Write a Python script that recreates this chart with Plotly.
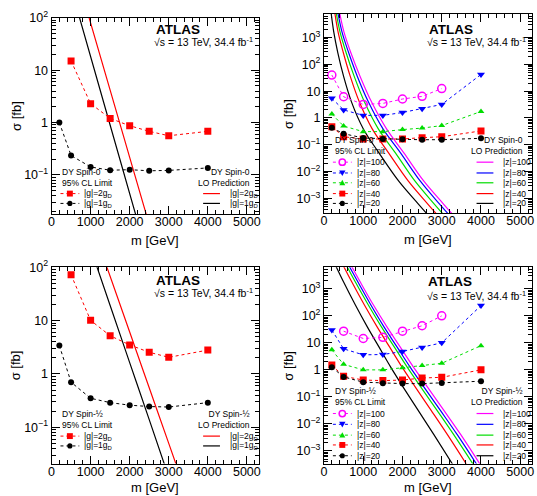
import plotly.graph_objects as go

# ------------------------------------------------------------------ data
# Top-left: DY spin-0, magnetic charge |g|
m_s0_g2 = [500, 1000, 1500, 2000, 2500, 3000, 4000]
lim_s0_g2 = [15, 2.3, 1.2, 0.87, 0.68, 0.56, 0.68]
m_s0_g1 = [200, 500, 1000, 1500, 2000, 2500, 3000, 4000]
lim_s0_g1 = [1.0, 0.235, 0.142, 0.123, 0.126, 0.12, 0.122, 0.136]
pm_s0_g2 = [900, 1500, 2000, 2500]
pred_s0_g2 = [144, 4.16, 0.217, 0.0113]
pm_s0_g1 = [700, 1200, 1700, 2200]
pred_s0_g1 = [111, 5.45, 0.268, 0.0132]

# Bottom-left: DY spin-1/2, magnetic charge |g|
m_s12_g2 = [500, 1000, 1500, 2000, 2500, 3000, 4000]
lim_s12_g2 = [72, 10.1, 5.2, 3.5, 2.55, 2.05, 2.8]
m_s12_g1 = [200, 500, 1000, 1500, 2000, 2500, 3000, 4000]
lim_s12_g1 = [3.4, 0.7, 0.35, 0.29, 0.26, 0.245, 0.24, 0.29]
pm_s12_g2 = [1400, 2000, 2500, 3000, 3250]
pred_s12_g2 = [109, 6.1, 0.55, 0.05, 0.015]
pm_s12_g1 = [1100, 1500, 2000, 2500, 2950]
pred_s12_g1 = [138, 19.2, 1.63, 0.139, 0.015]

# Top-right: DY spin-0, electric charge |z|
m_hec = [200, 500, 1000, 1500, 2000, 2500, 3000, 4000]
m_hec_z100_s0 = [200, 500, 1000, 1500, 2000, 2500, 3000]
lim_s0_z100 = [40, 6.2, 3.2, 3.5, 5.1, 6.4, 12.5]
lim_s0_z80 = [5.4, 2.0, 1.25, 1.25, 1.6, 2.2, 3.2, 42]
lim_s0_z60 = [1.4, 0.5, 0.31, 0.31, 0.37, 0.42, 0.52, 1.75]
lim_s0_z40 = [0.47, 0.2, 0.165, 0.165, 0.165, 0.185, 0.2, 0.33]
lim_s0_z20 = [0.43, 0.26, 0.18, 0.165, 0.16, 0.155, 0.155, 0.175]

pred_s0_sigma = [10000, 1585, 282, 35.5, 4.0, 0.4, 0.05, 0.0045, 0.00063, 0.0002]
pm_s0_z20 = [175, 250, 350, 500, 700, 1000, 1400, 1900, 2400, 2700]
pm_s0_z40 = [268, 360, 490, 670, 900, 1225, 1645, 2145, 2640, 2940]
pm_s0_z60 = [302, 410, 560, 770, 1030, 1380, 1820, 2315, 2805, 3105]
pm_s0_z80 = [344, 460, 625, 850, 1130, 1500, 1950, 2450, 2940, 3240]
pm_s0_z100 = [387, 510, 680, 920, 1210, 1590, 2035, 2540, 3040, 3340]

# Bottom-right: DY spin-1/2, electric charge |z|
m_hec_z100_s12 = [500, 1000, 1500, 2000, 2500, 3000]
lim_s12_z100 = [27, 14.5, 16, 27, 43, 100]
lim_s12_z80 = [30, 6, 3.6, 3.7, 4.8, 6.8, 10, 240]
lim_s12_z60 = [5.5, 1.6, 1.0, 1.0, 1.2, 1.45, 1.75, 7.9]
lim_s12_z40 = [1.5, 0.58, 0.42, 0.4, 0.42, 0.5, 0.53, 1.0]
lim_s12_z20 = [1.25, 0.55, 0.35, 0.32, 0.31, 0.31, 0.33, 0.38]

pred_s12_sigma = [7080, 1780, 251, 39.8, 7.08, 1.26, 0.251, 0.0316, 0.00398, 0.000282]
pm_s12_z20 = [300, 500, 800, 1100, 1400, 1700, 2000, 2400, 2800, 3300]
pm_s12_z40 = [494, 710, 1030, 1350, 1670, 1990, 2310, 2730, 3145, 3654]
pm_s12_z60 = [578, 800, 1130, 1460, 1790, 2120, 2450, 2880, 3305, 3824]
pm_s12_z80 = [638, 865, 1195, 1525, 1860, 2195, 2530, 2965, 3395, 3914]
pm_s12_z100 = [697, 925, 1260, 1600, 1940, 2280, 2620, 3055, 3485, 4001]

# tick labels
x_tickvals = [0, 1000, 2000, 3000, 4000, 5000]
x_ticktext = ["0", "1000", "2000", "3000", "4000", "5000"]
y_tickvals_g = [0.1, 1, 10, 100]
y_ticktext_g = ["10<sup>−1</sup>", "1", "10", "10<sup>2</sup>"]
y_tickvals_z = [1e-3, 1e-2, 1e-1, 1, 10, 100, 1000]
y_ticktext_z = ["10<sup>−3</sup>", "10<sup>−2</sup>", "10<sup>−1</sup>", "1", "10",
                "10<sup>2</sup>", "10<sup>3</sup>"]

# text
lab_g2 = "|g|=2g<sub>D</sub>"
lab_g1 = "|g|=1g<sub>D</sub>"
lab_z = ["|z|=100", "|z|=80", "|z|=60", "|z|=40", "|z|=20"]

# ------------------------------------------------------------------ layout helpers
W, H = 537, 496
FONT = "Liberation Sans, Arial, Helvetica, sans-serif"

def fx(x):
    return x / W

def fy(y):
    return 1 - y / H

# panel boxes in pixels: left, right, top, bottom
panels = {
    "tl": dict(ax="", box=(49, 258, 9, 209), yr=(-1.75, 2.0), kind="g", spin="0"),
    "tr": dict(ax="2", box=(324, 534, 5, 208), yr=(-3.55, 3.88), kind="z", spin="0"),
    "bl": dict(ax="3", box=(49, 258, 263, 463), yr=(-1.68, 2.0), kind="g", spin="½"),
    "br": dict(ax="4", box=(324, 534, 263, 463), yr=(-3.47, 3.8), kind="z", spin="½"),
}

RED = "#ff0000"
BLACK = "#000000"
MAG = "#ff00ff"
BLUE = "#0000ff"
GREEN = "#00dd00"

fig = go.Figure()

def add_limit(key, x, y, color, symbol, size):
    a = panels[key]["ax"]
    fig.add_trace(go.Scatter(
        x=x, y=y, mode="lines+markers", showlegend=False,
        line=dict(color=color, width=1, dash="dot"),
        marker=dict(symbol=symbol, size=size, color=color,
                    line=dict(color=color, width=1.5 if "open" in symbol else 0)),
        xaxis="x" + a, yaxis="y" + a, cliponaxis=True))

def add_pred(key, x, y, color):
    a = panels[key]["ax"]
    fig.add_trace(go.Scatter(
        x=x, y=y, mode="lines", showlegend=False, line_shape="spline",
        line=dict(color=color, width=1.2),
        xaxis="x" + a, yaxis="y" + a))

# top-left
add_pred("tl", pm_s0_g2, pred_s0_g2, RED)
add_pred("tl", pm_s0_g1, pred_s0_g1, BLACK)
add_limit("tl", m_s0_g2, lim_s0_g2, RED, "square", 7)
add_limit("tl", m_s0_g1, lim_s0_g1, BLACK, "circle", 6)

# bottom-left
add_pred("bl", pm_s12_g2, pred_s12_g2, RED)
add_pred("bl", pm_s12_g1, pred_s12_g1, BLACK)
add_limit("bl", m_s12_g2, lim_s12_g2, RED, "square", 7)
add_limit("bl", m_s12_g1, lim_s12_g1, BLACK, "circle", 6)

# top-right
for xm, c in [(pm_s0_z100, MAG), (pm_s0_z80, BLUE), (pm_s0_z60, GREEN),
              (pm_s0_z40, RED), (pm_s0_z20, BLACK)]:
    add_pred("tr", xm, pred_s0_sigma, c)
add_limit("tr", m_hec_z100_s0, lim_s0_z100, MAG, "circle-open", 8)
add_limit("tr", m_hec, lim_s0_z80, BLUE, "triangle-down", 7)
add_limit("tr", m_hec, lim_s0_z60, GREEN, "triangle-up", 6)
add_limit("tr", m_hec, lim_s0_z40, RED, "square", 7)
add_limit("tr", m_hec, lim_s0_z20, BLACK, "circle", 6)

# bottom-right
for xm, c in [(pm_s12_z100, MAG), (pm_s12_z80, BLUE), (pm_s12_z60, GREEN),
              (pm_s12_z40, RED), (pm_s12_z20, BLACK)]:
    add_pred("br", xm, pred_s12_sigma, c)
add_limit("br", m_hec_z100_s12, lim_s12_z100, MAG, "circle-open", 8)
add_limit("br", m_hec, lim_s12_z80, BLUE, "triangle-down", 7)
add_limit("br", m_hec, lim_s12_z60, GREEN, "triangle-up", 6)
add_limit("br", m_hec, lim_s12_z40, RED, "square", 7)
add_limit("br", m_hec, lim_s12_z20, BLACK, "circle", 6)

# ------------------------------------------------------------------ axes
layout = dict(width=W, height=H, margin=dict(l=0, r=0, t=0, b=0),
              paper_bgcolor="white", plot_bgcolor="white",
              font=dict(family=FONT, color="black", size=12), showlegend=False)

x_minor = list(range(0, 5400, 200))
for key, p in panels.items():
    l, r, t, b = p["box"]
    a = p["ax"]
    lo, hi = p["yr"]
    if p["kind"] == "g":
        tv, tt = y_tickvals_g, y_ticktext_g
    else:
        tv, tt = y_tickvals_z, y_ticktext_z
    e0, e1 = int(lo) - 1, int(hi) + 1
    y_minor = [k * 10.0 ** e for e in range(e0, e1 + 1) for k in range(2, 10)]
    layout["xaxis" + a] = dict(
        domain=[fx(l), fx(r)], range=[0, 5300], anchor="y" + a,
        showline=True, linecolor="black", linewidth=1, mirror="allticks",
        ticks="inside", ticklen=8, tickwidth=1, tickcolor="black",
        tickmode="array", tickvals=x_tickvals, ticktext=x_ticktext,
        ticklabelstandoff=-4,
        tickfont=dict(size=12.5), showgrid=False, zeroline=False,
        minor=dict(ticks="inside", ticklen=4, tickmode="array", tickvals=x_minor,
                   tickcolor="black", showgrid=False))
    layout["yaxis" + a] = dict(
        domain=[fy(b), fy(t)], type="log", range=[lo, hi], anchor="x" + a,
        showline=True, linecolor="black", linewidth=1, mirror="allticks",
        ticks="inside", ticklen=8, tickwidth=1, tickcolor="black",
        tickmode="array", tickvals=tv, ticktext=tt,
        tickfont=dict(size=12.5), showgrid=False, zeroline=False,
        minor=dict(ticks="inside", ticklen=4, tickmode="array", tickvals=y_minor,
                   tickcolor="black", showgrid=False))

fig.update_layout(**layout)

# ------------------------------------------------------------------ annotations / legends
ann = []
shapes = []

def text(x, y, s, size=8.5, xanchor="left", bold=False, angle=0, align="left"):
    ann.append(dict(x=fx(x), y=fy(y), xref="paper", yref="paper", text=s,
                    showarrow=False, xanchor=xanchor, yanchor="middle",
                    textangle=angle, align=align,
                    font=dict(size=size, family=FONT, color="black",
                              weight="bold" if bold else "normal")))

def seg(x0, x1, y, color, dash, width):
    shapes.append(dict(type="line", xref="paper", yref="paper",
                       x0=fx(x0), x1=fx(x1), y0=fy(y), y1=fy(y),
                       line=dict(color=color, width=width, dash=dash)))

def marker(cx, cy, symbol, color, s):
    if symbol == "circle":
        shapes.append(dict(type="circle", xref="paper", yref="paper",
                           x0=fx(cx - s), x1=fx(cx + s), y0=fy(cy + s), y1=fy(cy - s),
                           fillcolor=color, line=dict(color=color, width=0)))
    elif symbol == "circle-open":
        shapes.append(dict(type="circle", xref="paper", yref="paper",
                           x0=fx(cx - s), x1=fx(cx + s), y0=fy(cy + s), y1=fy(cy - s),
                           fillcolor="white", line=dict(color=color, width=1.5)))
    elif symbol == "square":
        shapes.append(dict(type="rect", xref="paper", yref="paper",
                           x0=fx(cx - s), x1=fx(cx + s), y0=fy(cy + s), y1=fy(cy - s),
                           fillcolor=color, line=dict(color=color, width=0)))
    else:
        d = 1 if symbol == "triangle-up" else -1
        pts = [(cx - s, cy + d * s * 0.8), (cx + s, cy + d * s * 0.8), (cx, cy - d * s)]
        path = "M " + " L ".join(f"{fx(px_):.5f},{fy(py_):.5f}" for px_, py_ in pts) + " Z"
        shapes.append(dict(type="path", xref="paper", yref="paper", path=path,
                           fillcolor=color, line=dict(color=color, width=0)))

def legend_blocks(key, title_y, entry_ys, labels, colors, symbols, sizes):
    l, r, t, b = panels[key]["box"]
    spin = panels[key]["spin"]
    # limit block (left)
    text(l + 9, title_y + 4.5, f"DY Spin-{spin}<br>95% CL Limit")
    for y, lab, c, s, sz in zip(entry_ys, labels, colors, symbols, sizes):
        seg(l + 9, l + 28, y, c, "dot", 1)
        marker(l + 18.5, y, s, c, sz)
        text(l + 31, y, lab)
    # prediction block (right)
    text(r - 7, title_y + 4.5, f"DY Spin-{spin}<br>LO Prediction", xanchor="right",
         align="right")
    for y, lab, c in zip(entry_ys, labels, colors):
        seg(r - 56, r - 39, y, c, "solid", 1.2)
        text(r - 31, y, lab)

legend_blocks("tl", 167, [188, 198], [lab_g2, lab_g1], [RED, BLACK],
              ["square", "circle"], [3, 2.6])
legend_blocks("bl", 414, [435, 445], [lab_g2, lab_g1], [RED, BLACK],
              ["square", "circle"], [3, 2.6])
zcols = [MAG, BLUE, GREEN, RED, BLACK]
zsyms = ["circle-open", "triangle-down", "triangle-up", "square", "circle"]
zsz = [3.2, 3.2, 3.0, 3.0, 2.6]
legend_blocks("tr", 135, [156, 167, 177, 188, 198], lab_z, zcols, zsyms, zsz)
legend_blocks("br", 390, [412, 423, 434, 444, 455], lab_z, zcols, zsyms, zsz)

# ATLAS labels and axis titles
for key, (ax_x, ax_y, sq_y) in {"tl": (152, 21, 33), "tr": (428, 21, 33),
                                 "bl": (152, 277, 289), "br": (427, 278, 292)}.items():
    l, r, t, b = panels[key]["box"]
    text(ax_x, ax_y, "ATLAS", size=13.5, bold=True)
    text(r - 4, sq_y, "√s = 13 TeV, 34.4 fb<sup>-1</sup>", size=10.5, xanchor="right")
    text((l + r) / 2, b + (27 if t < 100 else 24), "m [GeV]", size=13, xanchor="center")
    text(l - 36, (t + b) / 2, "σ [fb]", size=13, xanchor="center", angle=-90)

fig.update_layout(annotations=ann, shapes=shapes)
fig.write_html("out.html")
